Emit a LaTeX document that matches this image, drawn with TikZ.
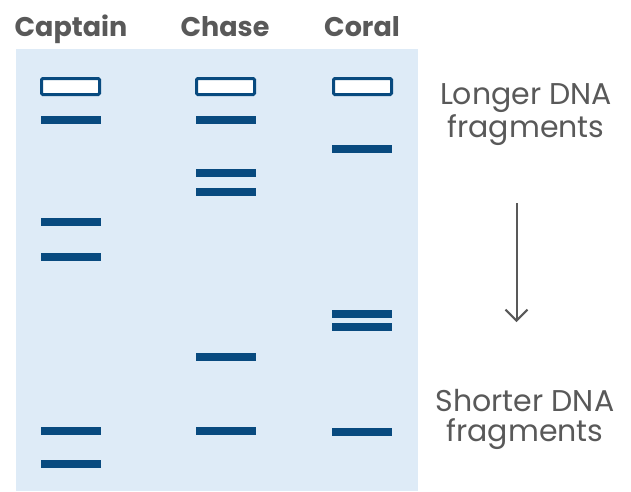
\documentclass[tikz,border=0pt]{standalone}
\usepackage{fontspec}
\setmainfont{Poppins}
\usetikzlibrary{arrows.meta}
\definecolor{gelbg}{HTML}{DEEBF7}
\definecolor{bandblue}{HTML}{084A7F}
\definecolor{labelgray}{HTML}{595959}
\begin{document}
\begin{tikzpicture}[x=1pt,y={(0,-1pt)}]
\tikzset{
  lane/.style={font=\fontsize{27}{30}\selectfont\bfseries, text=labelgray, anchor=base, inner sep=0pt},
  side/.style={font=\fontsize{30}{29.5}\selectfont, text=labelgray, align=center, anchor=base, inner sep=0pt},
  well/.style={draw=bandblue, line width=3pt, fill=white, rounded corners=1.2pt},
  band/.style={fill=bandblue},
  migr/.style={draw=labelgray, line width=2pt, -{Straight Barb[length=11pt,width=22pt,line width=2pt]}},
}
\useasboundingbox (0,0) rectangle (631,491);
% gel slab
\fill[gelbg] (16,49) rectangle (418,491);
% lane headings
\node[lane] (capt) at (71,36) {Captain};
\node[lane] (chase) at (225,36) {Chase};
\node[lane] (coral) at (362,36) {Coral};
% loading wells
\foreach \x in {41.5,196.5,333.5}
  \draw[well] (\x,78.5) rectangle ++(58,16);
% bands: lane left edge / band centre
\foreach \x/\y in {41/120,41/222,41/257,41/431,41/464,
                   196/120,196/173,196/192,196/357,196/431,
                   332/149,332/314,332/327,332/432}
  \fill[band] (\x,\y-4) rectangle ++(60,8);
% size legend (anchored at the baseline of the lower line)
\node[side] (longer) at (526,137) {Longer DNA\\fragments};
\node[side] (shorter) at (525,441) {Shorter DNA\\fragments};
\coordinate (atop) at (516.5,203);
\coordinate (abot) at (516.5,322);
\draw[migr] (atop) -- (abot);
\end{tikzpicture}
\end{document}
